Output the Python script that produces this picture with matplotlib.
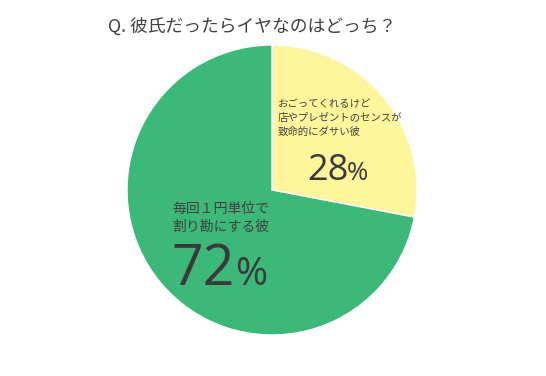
import matplotlib.pyplot as plt

plt.rcParams['font.family'] = ['Noto Sans CJK JP', 'DejaVu Sans']

labels = ["おごってくれるけど\n店やプレゼントのセンスが\n致命的にダサい彼", "毎回１円単位で\n割り勘にする彼"]
values = [28, 72]
colors = ["#fff59d", "#3cb878"]
title = "Q. 彼氏だったらイヤなのはどっち？"

W, H = 546, 376
fig = plt.figure(figsize=(W / 100, H / 100), dpi=100)
ax = fig.add_axes([0, 0, 1, 1])

ax.pie(values, colors=colors, startangle=90, counterclock=False,
       center=(272, H - 190), radius=145, frame=True,
       wedgeprops=dict(edgecolor='white', linewidth=1))
ax.set_xlim(0, W)
ax.set_ylim(0, H)
ax.set_aspect('equal')
ax.axis('off')

txt = "#404040"
num = dict(family=['Open Sans', 'DejaVu Sans'], color="#3a3a3a", va='baseline', ha='left')
ax.text(108, H - 27, title, fontsize=12.8, color=txt, va='center', ha='left')

# yellow slice
ax.text(278, H - 118, labels[0], fontsize=7.5, color=txt, va='center', ha='left',
        linespacing=1.4)
ax.text(307, H - 180, str(values[0]), fontsize=26, **num)
ax.text(347, H - 180, "%", fontsize=18.5, **num)

# green slice
ax.text(171, H - 285, str(values[1]), fontsize=40, **num)
ax.text(235, H - 285, "%", fontsize=28, **num)
ax.text(172, H - 218, labels[1], fontsize=10, color=txt, va='center', ha='left',
        linespacing=1.35)

fig.savefig("out.png", dpi=100)
